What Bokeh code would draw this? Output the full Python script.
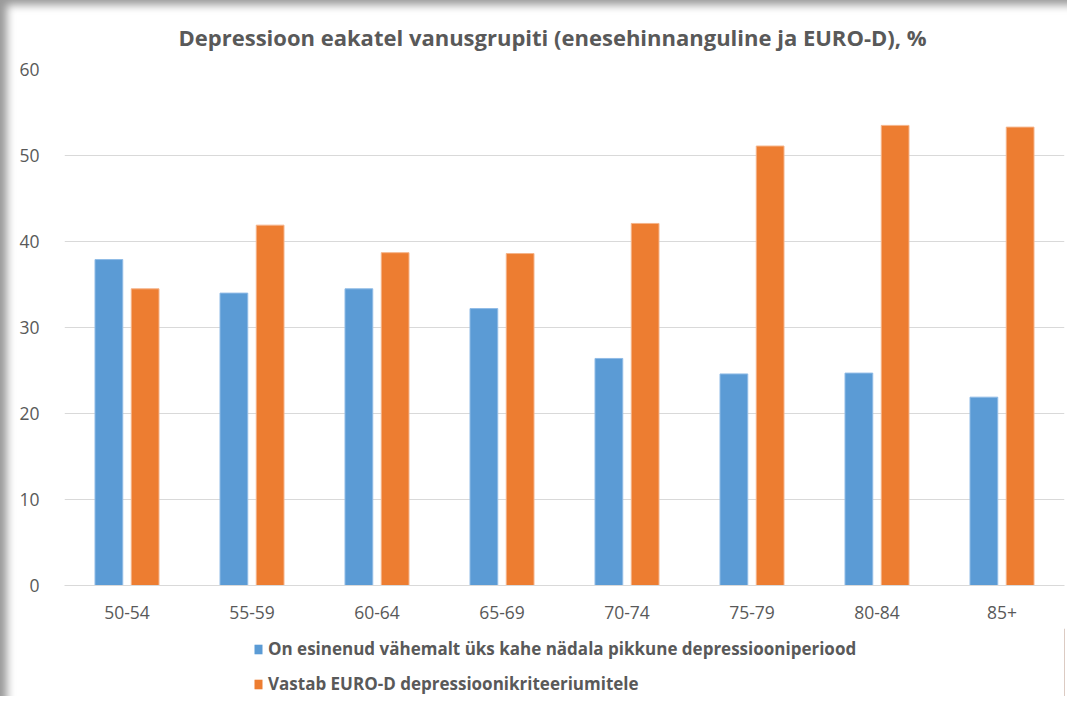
from bokeh.plotting import figure
from bokeh.layouts import column
from bokeh.models import ColumnDataSource, Legend, LegendItem, FactorRange
from bokeh.transform import dodge
from bokeh.embed import file_html
from bokeh.resources import INLINE

categories = ["50-54", "55-59", "60-64", "65-69", "70-74", "75-79", "80-84", "85+"]
self_rated = [37.9, 34.0, 34.5, 32.2, 26.4, 24.6, 24.7, 21.9]
euro_d = [34.5, 41.9, 38.7, 38.6, 42.1, 51.1, 53.5, 53.3]
series_names = ["On esinenud vähemalt üks kahe nädala pikkune depressiooniperiood",
                "Vastab EURO-D depressioonikriteeriumitele"]
y_ticks = [0, 10, 20, 30, 40, 50, 60]

BLUE = "#5b9bd5"
ORANGE = "#ed7d31"
TEXT = "#595959"
GRID = "#d9d9d9"
FONT = "Open Sans"

src = ColumnDataSource(dict(cat=categories, a=self_rated, b=euro_d))

p = figure(x_range=FactorRange(*categories, range_padding=0), y_range=(0, 60),
           width=1067, height=628, output_backend="svg", toolbar_location=None,
           title="Depressioon eakatel vanusgrupiti (enesehinnanguline ja EURO-D), %",
           min_border_left=64, min_border_right=3, min_border_top=69, min_border_bottom=43)

r1 = p.vbar(x=dodge("cat", -0.145, range=p.x_range), top="a", width=0.222, source=src,
            fill_color=BLUE, line_color="#8fbbe6", line_width=1)
r2 = p.vbar(x=dodge("cat", 0.145, range=p.x_range), top="b", width=0.222, source=src,
            fill_color=ORANGE, line_color="#f5b48a", line_width=1)

p.title.text_font = FONT
p.title.text_font_size = "22px"
p.title.text_font_style = "bold"
p.title.text_color = TEXT
p.title.align = "left"
p.title.offset = 114
p.title.standoff = 36

p.border_fill_color = None
p.outline_line_color = None
p.xgrid.grid_line_color = None
p.ygrid.grid_line_color = GRID
p.ygrid.grid_line_width = 1
p.yaxis.ticker = y_ticks
p.yaxis.axis_line_color = None
p.yaxis.major_tick_line_color = None
p.yaxis.minor_tick_line_color = None
p.yaxis.major_label_text_font = FONT
p.yaxis.major_label_text_font_size = "17.5px"
p.yaxis.major_label_text_color = TEXT
p.yaxis.major_label_standoff = 19
p.xaxis.axis_line_color = GRID
p.xaxis.major_tick_line_color = None
p.xaxis.minor_tick_line_color = None
p.xaxis.major_label_text_font = FONT
p.xaxis.major_label_text_font_size = "17.5px"
p.xaxis.major_label_text_color = TEXT
p.xaxis.major_label_standoff = 14

# legend panel below the chart
q = figure(width=1067, height=68, output_backend="svg", toolbar_location=None,
           x_range=(0, 1), y_range=(0, 1), min_border=0,
           x_axis_location=None, y_axis_location=None)
q.border_fill_color = None
q.background_fill_color = None
q.outline_line_color = None
q.grid.visible = False
# swatch-only renderers placed outside the visible range
k1 = q.vbar(x=[5], top=[1], width=0.1, fill_color=BLUE, line_color=None)
k2 = q.vbar(x=[5], top=[1], width=0.1, fill_color=ORANGE, line_color=None)

legend = Legend(items=[LegendItem(label=series_names[0], renderers=[k1]),
                       LegendItem(label=series_names[1], renderers=[k2])],
                orientation="vertical", location=(189, 1))
legend.label_text_font = FONT
legend.label_text_font_size = "17px"
legend.label_text_font_style = "bold"
legend.label_text_color = TEXT
legend.glyph_width = 10
legend.glyph_height = 12
legend.label_standoff = 5
legend.label_height = 20
legend.spacing = 12
legend.border_line_color = None
legend.background_fill_alpha = 0
legend.padding = 0
legend.margin = 0
q.add_layout(legend, "center")

layout = column(p, q, spacing=0)
layout.styles = {"box-shadow": "inset 10px 8px 8px -3px rgba(0,0,0,0.40)",
                 "background-color": "white"}

open("out.html", "w").write(file_html(layout, INLINE))
